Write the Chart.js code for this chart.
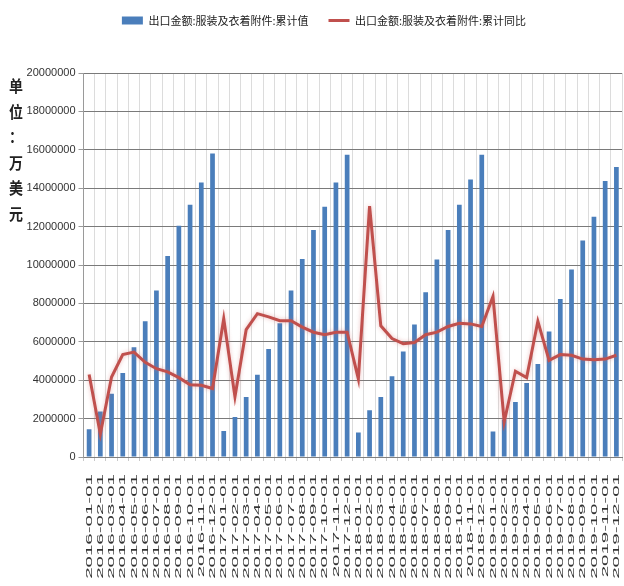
<!DOCTYPE html>
<html>
<head>
<meta charset="utf-8">
<script src="https://cdn.jsdelivr.net/npm/chart.js@4/dist/chart.umd.min.js"></script>
<style>
  html, body { margin: 0; padding: 0; background: #ffffff; }
  canvas { display: block; }
</style>
</head>
<body>
<canvas id="chart" width="624" height="586"></canvas>
<script>
// Monthly reporting dates
const categories = [
  '2016-01-01','2016-02-01','2016-03-01','2016-04-01','2016-05-01','2016-06-01',
  '2016-07-01','2016-08-01','2016-09-01','2016-10-01','2016-11-01','2016-12-01',
  '2017-01-01','2017-02-01','2017-03-01','2017-04-01','2017-05-01','2017-06-01',
  '2017-07-01','2017-08-01','2017-09-01','2017-10-01','2017-11-01','2017-12-01',
  '2018-01-01','2018-02-01','2018-03-01','2018-04-01','2018-05-01','2018-06-01',
  '2018-07-01','2018-08-01','2018-09-01','2018-10-01','2018-11-01','2018-12-01',
  '2019-01-01','2019-02-01','2019-03-01','2019-04-01','2019-05-01','2019-06-01',
  '2019-07-01','2019-08-01','2019-09-01','2019-10-01','2019-11-01','2019-12-01'
];

// Cumulative export value (万美元)
const cumulativeValue = [
  1440000, 2370000, 3290000, 4370000, 5720000, 7070000, 8670000, 10470000, 12050000, 13140000, 14300000, 15810000,
  1350000, 2080000, 3120000, 4280000, 5630000, 6970000, 8670000, 10310000, 11820000, 13030000, 14300000, 15740000,
  1270000, 2430000, 3120000, 4210000, 5490000, 6900000, 8580000, 10290000, 11820000, 13140000, 14450000, 15740000,
  1330000, 1950000, 2860000, 3860000, 4850000, 6530000, 8230000, 9760000, 11270000, 12510000, 14380000, 15110000
];

// Cumulative year-on-year change (%)
const cumulativeYoY = [
  -7.1, -16.4, -7.5, -4.0, -3.6, -5.2, -6.2, -6.7, -7.6, -8.7, -8.8, -9.3,
   1.6, -10.6, -0.1,  2.4,  1.9,  1.3,  1.3,  0.3, -0.5, -0.9, -0.5, -0.5,
  -7.8,  19.2,  0.5, -1.5, -2.3, -2.1, -0.9, -0.5,  0.4,  0.9,  0.8,  0.4,
   5.1, -14.5, -6.6, -7.6,  1.2, -4.9, -4.0, -4.1, -4.7, -4.8, -4.7, -4.1
];

const yTickLabels = [
  '0', '2000000', '4000000', '6000000', '8000000', '10000000',
  '12000000', '14000000', '16000000', '18000000', '20000000'
];

const seriesNames = ['出口金额:服装及衣着附件:累计值', '出口金额:服装及衣着附件:累计同比'];
const yAxisTitle = '单位：万美元';

// Extra space between the legend row and the plot
const legendGap = {
  id: 'legendGap',
  beforeInit(chart) {
    const legend = chart.legend;
    if (!legend) return;
    const fit = legend.fit;
    legend.fit = function () {
      fit.call(this);
      this.height += 37;
    };
  }
};

// Unit caption stacked one character per line beside the value axis
const stackedAxisTitle = {
  id: 'stackedAxisTitle',
  afterDraw(chart) {
    const ctx = chart.ctx;
    ctx.save();
    ctx.font = 'bold 14px "Noto Sans CJK SC"';
    ctx.fillStyle = '#222222';
    ctx.textAlign = 'center';
    ctx.textBaseline = 'middle';
    Array.from(yAxisTitle).forEach((ch, i) => {
      ctx.save();
      ctx.translate(16, 86 + i * 25.5);
      ctx.scale(1, 1.15);
      ctx.fillText(ch, 0, 0);
      ctx.restore();
    });
    ctx.restore();
  }
};

// Date labels under each category, rotated and drawn tall and narrow
const tallDateLabels = {
  id: 'tallDateLabels',
  afterDraw(chart) {
    const sc = chart.scales.x;
    const ctx = chart.ctx;
    ctx.save();
    ctx.font = '10px "Liberation Sans"';
    ctx.fillStyle = '#333333';
    ctx.textAlign = 'right';
    ctx.textBaseline = 'middle';
    chart.data.labels.forEach((label, i) => {
      ctx.save();
      ctx.translate(sc.getPixelForTick(i), sc.top + 17);
      ctx.rotate(-Math.PI / 2);
      ctx.scale(2.05, 0.95);
      ctx.fillText(label, 0, 0);
      ctx.restore();
    });
    ctx.restore();
  }
};

// Soft glow along the year-on-year line
const lineGlow = {
  id: 'lineGlow',
  beforeDatasetDraw(chart, args) {
    if (args.index === 1) {
      chart.ctx.save();
      chart.ctx.shadowColor = 'rgba(210, 110, 110, 0.45)';
      chart.ctx.shadowBlur = 4;
    }
  },
  afterDatasetDraw(chart, args) {
    if (args.index === 1) chart.ctx.restore();
  }
};

new Chart(document.getElementById('chart'), {
  type: 'bar',
  data: {
    labels: categories,
    datasets: [
      {
        type: 'bar',
        label: seriesNames[0],
        data: cumulativeValue,
        backgroundColor: '#4a7ebb',
        borderWidth: 0,
        barPercentage: 0.42,
        categoryPercentage: 1,
        yAxisID: 'y',
        order: 1,
        pointStyle: 'rect'
      },
      {
        type: 'line',
        label: seriesNames[1],
        data: cumulativeYoY,
        borderColor: '#c0504d',
        backgroundColor: '#c0504d',
        borderWidth: 3,
        pointRadius: 0,
        tension: 0,
        yAxisID: 'y2',
        order: 0,
        pointStyle: 'line'
      }
    ]
  },
  options: {
    responsive: false,
    animation: false,
    devicePixelRatio: 1,
    layout: { padding: { left: 26, right: 2, top: -5, bottom: 0 } },
    plugins: {
      legend: {
        position: 'top',
        labels: {
          usePointStyle: true,
          pointStyleWidth: 21,
          boxWidth: 21,
          boxHeight: 8,
          padding: 20,
          color: '#222222',
          font: { size: 11, family: '"Noto Sans CJK SC"' },
          sort: (a, b) => a.datasetIndex - b.datasetIndex
        }
      },
      tooltip: { enabled: false }
    },
    scales: {
      x: {
        offset: true,
        grid: { offset: true, color: '#dcdcdc', tickColor: '#c8c8c8', tickLength: 4 },
        border: { display: true, color: '#808080' },
        ticks: { display: false },
        afterFit(s) { s.height = 129; }
      },
      y: {
        min: 0,
        max: 20000000,
        ticks: {
          stepSize: 2000000,
          callback: (v, i) => yTickLabels[i],
          color: '#333333',
          padding: 3,
          font: { size: 11, family: '"Liberation Sans"' }
        },
        grid: { color: '#7a7a7a', tickColor: '#9a9a9a', tickLength: 5 },
        border: { display: true, color: '#9a9a9a' },
        afterFit(s) { s.width = 57.5; }
      },
      y2: { display: false, min: -20, max: 40 }
    }
  },
  plugins: [legendGap, stackedAxisTitle, tallDateLabels, lineGlow]
});
</script>
</body>
</html>
